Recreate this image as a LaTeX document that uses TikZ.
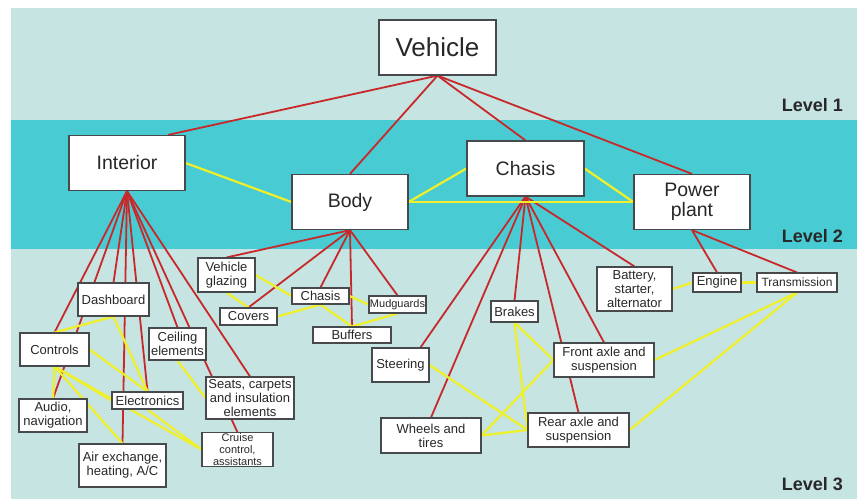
\documentclass[tikz,border=0pt]{standalone}
\usepackage{fontspec}
\setmainfont{Liberation Sans}
\usepackage{tikz}

\definecolor{bandlight}{RGB}{197,228,226}
\definecolor{banddark}{RGB}{72,203,210}
\definecolor{linkred}{RGB}{200,40,42}
\definecolor{linkyellow}{RGB}{240,240,40}
\definecolor{boxgray}{RGB}{70,74,76}
\definecolor{textgray}{RGB}{40,40,40}

\pgfdeclarelayer{bands}
\pgfdeclarelayer{links}
\pgfsetlayers{bands,links,main}

\tikzset{
  partbox/.style={draw=boxgray, line width=1.2pt, fill=white, text=textgray,
    align=center, inner sep=1pt},
  topbox/.style={partbox, minimum width=117pt, minimum height=55pt,
    font=\fontsize{26}{30}\selectfont},
  groupbox/.style={partbox, minimum width=116pt, minimum height=55pt,
    font=\fontsize{19.5}{20.5}\selectfont},
  itembox/.style={partbox, line width=1.1pt, font=\fontsize{13}{14}\selectfont},
  tinybox/.style={itembox, font=\fontsize{11}{11.6}\selectfont},
  redlink/.style={linkred, line width=1.8pt},
  yellowlink/.style={linkyellow, line width=2.2pt},
  levellabel/.style={anchor=base east, inner sep=0pt, text=textgray,
    font=\fontsize{18}{20}\selectfont\bfseries}
}

\begin{document}
\begin{tikzpicture}[x=1pt,y=-1pt]
    \useasboundingbox (0,0) rectangle (857,499);

    % Faixas dos niveis
    \begin{pgfonlayer}{bands}
        \fill[bandlight] (11,8) rectangle (857,120);
        \fill[banddark] (11,120) rectangle (857,249);
        \fill[bandlight] (11,249) rectangle (857,499);
    \end{pgfonlayer}
    \node[levellabel] (lvlone) at (843,111) {Level 1};
    \node[levellabel] (lvltwo) at (843,242) {Level 2};
    \node[levellabel] (lvlthree) at (843,490) {Level 3};

    % Nivel 1 e 2
    \node[topbox] (vehicle) at (437.5,47.5) {Vehicle};
    \node[groupbox] (interior) at (127,163) {Interior};
    \node[groupbox] (body) at (350,202) {Body};
    \node[groupbox, minimum width=117pt] (chasis) at (525.5,168.5) {Chasis};
    \node[groupbox] (power) at (692,202) {Power\\plant};

    % Nivel 3 - Interior
    \node[itembox, minimum width=71pt, minimum height=33pt] (dashboard) at (113.5,299.5) {Dashboard};
    \node[itembox, minimum width=69pt, minimum height=33pt] (controls) at (54.5,349.5) {Controls};
    \node[itembox, minimum width=57pt, minimum height=32pt] (ceiling) at (177.5,344) {Ceiling\\elements};
    \node[itembox, minimum width=71pt, minimum height=17pt] (electronics) at (147.5,400.5) {Electronics};
    \node[itembox, minimum width=68pt, minimum height=33pt] (audio) at (53,415.5) {Audio,\\navigation};
    \node[itembox, minimum width=88pt, minimum height=42pt] (seats) at (250,398) {Seats, carpets\\and insulation\\elements};
    \node[tinybox, minimum width=71pt, minimum height=33pt] (cruise) at (237.5,449.5) {Cruise\\control,\\assistants};
    \node[itembox, minimum width=87pt, minimum height=43pt] (aircon) at (122.5,465.5) {Air exchange,\\heating, A/C};

    % Nivel 3 - Body
    \node[itembox, minimum width=57pt, minimum height=34pt] (glazing) at (226.5,275) {Vehicle\\glazing};
    \node[itembox, minimum width=57pt, minimum height=17pt] (covers) at (248.5,316.5) {Covers};
    \node[itembox, minimum width=57pt, minimum height=16pt] (chasisb) at (320.5,296) {Chasis};
    \node[tinybox, minimum width=57pt, minimum height=17pt] (mudguards) at (397.5,304.5) {Mudguards};
    \node[itembox, minimum width=78pt, minimum height=16pt] (buffers) at (352,335) {Buffers};

    % Nivel 3 - Chasis
    \node[itembox, minimum width=57pt, minimum height=34pt] (steering) at (400.5,365) {Steering};
    \node[itembox, minimum width=47pt, minimum height=21pt] (brakes) at (514.5,311.5) {Brakes};
    \node[itembox, minimum width=100pt, minimum height=34pt] (front) at (604,360) {Front axle and\\suspension};
    \node[itembox, minimum width=100pt, minimum height=35pt] (wheels) at (431,435.5) {Wheels and\\tires};
    \node[itembox, minimum width=101pt, minimum height=34pt] (rear) at (578.5,430) {Rear axle and\\suspension};

    % Nivel 3 - Power plant
    \node[itembox, minimum width=75pt, minimum height=44pt] (battery) at (634.5,289) {Battery,\\starter,\\alternator};
    \node[itembox, minimum width=48pt, minimum height=19pt] (engine) at (717,282.5) {Engine};
    \node[tinybox, font=\fontsize{12}{13}\selectfont, minimum width=80pt, minimum height=19pt] (transmission) at (797,282.5) {Transmission};

    \begin{pgfonlayer}{links}
        % Hierarquia
        \draw[redlink] (vehicle.south) -- ([xshift=41pt]interior.north);
        \foreach \c in {body,chasis,power}
            \draw[redlink] (vehicle.south) -- (\c.north);
        \foreach \c in {controls,audio,dashboard,aircon,electronics,ceiling,cruise,seats}
            \draw[redlink] (interior.south) -- (\c.north);
        \foreach \c in {glazing,covers,chasisb,buffers,mudguards}
            \draw[redlink] (body.south) -- (\c.north);
        \draw[redlink] (chasis.south) -- ([xshift=20pt]steering.north);
        \foreach \c in {wheels,brakes,rear,front,battery}
            \draw[redlink] (chasis.south) -- (\c.north);
        \foreach \c in {engine,transmission}
            \draw[redlink] (power.south) -- (\c.north);

        % Ligacoes
        \foreach \a/\b in {interior.east/body.west, body.east/chasis.west,
            body.east/power.west, chasis.east/power.west,
            glazing.east/chasisb.west, glazing.south/covers.north,
            covers.east/chasisb.south, chasisb.south/buffers.north,
            mudguards.south/buffers.north, chasisb.east/mudguards.west,
            controls.north/dashboard.south, dashboard.south/electronics.north,
            controls.east/electronics.north, controls.south/audio.north,
            controls.south/electronics.west, controls.south/aircon.north,
            controls.south/cruise.west, electronics.south/cruise.west,
            ceiling.south/seats.west,
            brakes.south/front.west, brakes.south/rear.west,
            front.west/wheels.east, wheels.east/rear.west,
            steering.east/rear.west,
            front.east/transmission.south, rear.east/transmission.south,
            battery.east/engine.west, engine.east/transmission.west}
            \draw[yellowlink] (\a) -- (\b);
    \end{pgfonlayer}
\end{tikzpicture}
\end{document}
